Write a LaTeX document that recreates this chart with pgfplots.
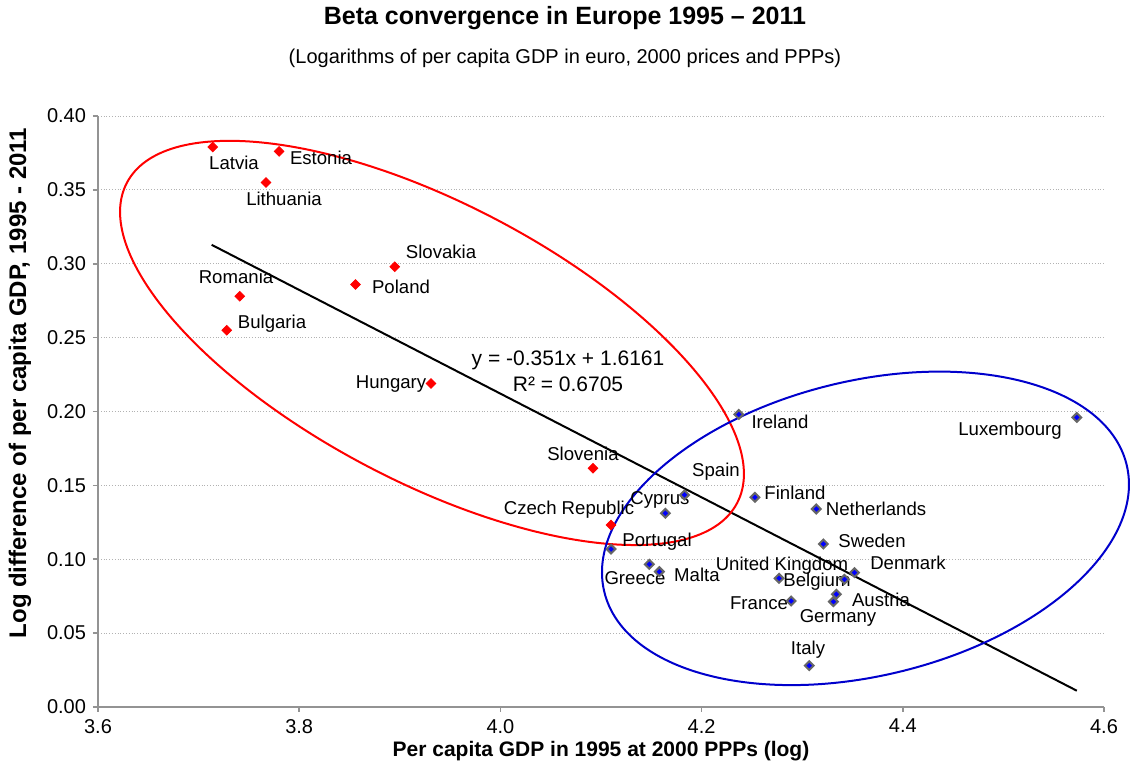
\documentclass[border=0pt]{standalone}
\usepackage{fontspec}
\setmainfont{Liberation Sans}
\usepackage{pgfplots}
\pgfplotsset{compat=1.18}

\begin{document}
\begin{tikzpicture}
\begin{axis}[
  scale only axis, width=503pt, height=295.5pt,
  xmin=3.6, xmax=4.6, ymin=0, ymax=0.4,
  xtick={3.6,3.8,4.0,4.2,4.4,4.6},
  ytick={0,0.05,0.10,0.15,0.20,0.25,0.30,0.35,0.40},
  xticklabel style={/pgf/number format/.cd, fixed, fixed zerofill, precision=1},
  yticklabel style={/pgf/number format/.cd, fixed, fixed zerofill, precision=2},
  /pgf/number format/assume math mode=true,
  ticklabel style={font=\fontsize{10}{12}\selectfont},
  axis x line*=bottom, axis y line*=left,
  axis line style={draw=gray!85, line width=0.8pt, -},
  tick style={draw=gray!85, line width=0.8pt},
  tick align=outside, major tick length=2.5pt,
  ymajorgrids, grid style={gray!60, densely dotted, line width=0.4pt},
  clip=false,
]
% EU new members (red)
\addplot[only marks, mark=square*, mark size=1.7pt, color=red, mark options={rotate=45}] coordinates {
  (3.714,0.379) (3.780,0.376) (3.767,0.355) (3.895,0.298) (3.856,0.286)
  (3.741,0.278) (3.728,0.255) (3.931,0.219) (4.092,0.1616) (4.110,0.1232)
};
% EU old members (blue)
\addplot[only marks, mark=square*, mark size=1.55pt,
  mark options={rotate=45, draw=black!60, fill=blue, line width=1pt}] coordinates {
  (4.237,0.198) (4.573,0.196) (4.183,0.1435) (4.164,0.1311) (4.253,0.1419)
  (4.314,0.1340) (4.321,0.1103) (4.110,0.1069) (4.148,0.0966) (4.158,0.0916)
  (4.277,0.0871) (4.342,0.0864) (4.352,0.0909) (4.334,0.0763) (4.331,0.0713)
  (4.289,0.0717) (4.307,0.0280)
};
% linear trend
\addplot[black, line width=1pt] coordinates {(3.713,0.3128) (4.573,0.0110)};

\coordinate (sw) at (rel axis cs:0,0);
\coordinate (ne) at (rel axis cs:1,1);

\draw[red, line width=1pt, rotate around={-27.7:(axis cs:3.932,0.2464)}]
  (axis cs:3.932,0.2464) ellipse [x radius=172.3pt, y radius=69.6pt];
\draw[blue!80!black, line width=1pt, rotate around={13.7:(axis cs:4.3629,0.1209)}]
  (axis cs:4.3629,0.1209) ellipse [x radius=134.4pt, y radius=73.7pt];

\begin{scope}[every node/.style={font=\fontsize{9.3}{11}\selectfont, inner sep=0pt}]
\node at (axis cs:3.7352,0.3682) {Latvia};
\node at (axis cs:3.8217,0.3716) {Estonia};
\node at (axis cs:3.7849,0.3438) {Lithuania};
\node at (axis cs:3.9410,0.3080) {Slovakia};
\node at (axis cs:3.9012,0.2843) {Poland};
\node at (axis cs:3.7372,0.2910) {Romania};
\node at (axis cs:3.7730,0.2592) {Bulgaria};
\node at (axis cs:3.8913,0.2186) {Hungary};
\node at (axis cs:4.0821,0.1712) {Slovenia};
\node at (axis cs:4.0682,0.1333) {Czech Republic};
\node at (axis cs:4.2779,0.1929) {Ireland};
\node at (axis cs:4.5066,0.1868) {Luxembourg};
\node at (axis cs:4.2143,0.1591) {Spain};
\node at (axis cs:4.1586,0.1401) {Cyprus};
\node at (axis cs:4.2928,0.1448) {Finland};
\node at (axis cs:4.3734,0.1340) {Netherlands};
\node at (axis cs:4.3694,0.1124) {Sweden};
\node at (axis cs:4.1557,0.1117) {Portugal};
\node at (axis cs:4.1338,0.0873) {Greece};
\node at (axis cs:4.1954,0.0893) {Malta};
\node at (axis cs:4.2799,0.0954) {United Kingdom};
\node at (axis cs:4.3147,0.0846) {Belgium};
\node at (axis cs:4.4052,0.0975) {Denmark};
\node at (axis cs:4.3783,0.0724) {Austria};
\node at (axis cs:4.3356,0.0602) {Germany};
\node at (axis cs:4.2571,0.0704) {France};
\node at (axis cs:4.3058,0.0386) {Italy};
\end{scope}

\node[font=\fontsize{10.5}{13}\selectfont, align=center] at (axis cs:4.0672,0.2271)
  {y = -0.351x + 1.6161\\R² = 0.6705};

\node[font=\bfseries\fontsize{12.5}{15}\selectfont] at (rel axis cs:0.4642,1.1658)
  {Beta convergence in Europe 1995 – 2011};
\node[font=\fontsize{10}{12}\selectfont] at (rel axis cs:0.4642,1.0981)
  {(Logarithms of per capita GDP in euro, 2000 prices and PPPs)};
\node[font=\bfseries\fontsize{10.5}{12}\selectfont] at (rel axis cs:0.5,-0.0745)
  {Per capita GDP in 1995 at 2000 PPPs (log)};
\node[font=\bfseries\fontsize{12}{14}\selectfont, rotate=90] at (rel axis cs:-0.0775,0.548)
  {Log difference of per capita GDP, 1995 - 2011};
\end{axis}
\pgfresetboundingbox
\path[use as bounding box] ([shift={(-49pt,-30pt)}]sw) rectangle ([shift={(13pt,58pt)}]ne);
\end{tikzpicture}
\end{document}
